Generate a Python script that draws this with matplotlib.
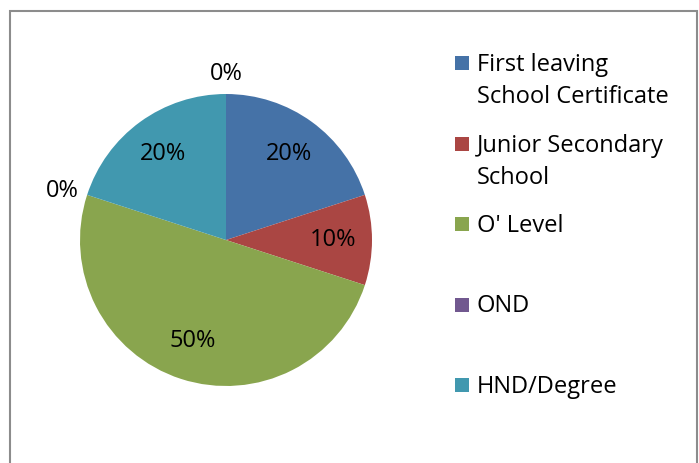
import matplotlib
matplotlib.use("Agg")
import matplotlib.pyplot as plt
from matplotlib.patches import Rectangle
import numpy as np

# dados (a última categoria não tem legenda)
categories = ["First leaving\nSchool Certificate", "Junior Secondary\nSchool",
              "O' Level", "OND", "HND/Degree", ""]
values = [20, 10, 50, 0, 20, 0]
colors = ["#4572A7", "#AA4643", "#89A54E", "#71588F", "#4198AF", "#DB843D"]

W, H = 699, 463
plt.rcParams["font.family"] = ["Open Sans", "DejaVu Sans"]


def px(x, y):
    # pixel (a partir do topo) -> coordenadas da figura
    return x / W, 1 - y / H


def make_chart():
    fig = plt.figure(figsize=(W / 100, H / 100), dpi=100)

    # moldura cinza do gráfico
    fig.patches.append(Rectangle(px(10, 480), (697 - 10) / W, (480 - 11) / H,
                                 transform=fig.transFigure, fill=False,
                                 edgecolor="#8c8c8c", linewidth=1.5))

    cx, cy, r = 226, 240, 146
    x0, y1 = px(cx - r, cy + r)
    ax = fig.add_axes([x0, y1, 2 * r / W, 2 * r / H])
    wedges, _ = ax.pie(values, colors=colors, startangle=90, counterclock=False,
                       radius=1, wedgeprops=dict(linewidth=0))
    ax.set_xlim(-1, 1)
    ax.set_ylim(-1, 1)
    ax.set_aspect("equal")
    ax.axis("off")

    total = sum(values)
    for w, v in zip(wedges, values):
        ang = np.deg2rad((w.theta1 + w.theta2) / 2)
        dist = 0.73 if v > 0 else 1.14
        lx, ly = dist * np.cos(ang), dist * np.sin(ang)
        if v == 0 and np.cos(ang) < -0.5:
            lx -= 0.04
            ly -= 0.02
        ax.text(lx, ly, f"{round(v / total * 100)}%",
                ha="center", va="center", fontsize=17, color="black", clip_on=False)

    # legenda manual (espaçamento uniforme como no Excel)
    for i, (cat, col) in enumerate(zip(categories[:5], colors[:5])):
        ly = 63 + i * 80.5
        sx, sy = px(455, ly + 7)
        fig.patches.append(Rectangle((sx, sy), 14 / W, 14 / H,
                                     transform=fig.transFigure,
                                     facecolor=col, edgecolor="none"))
        tx, ty = px(477, ly - 10)
        fig.text(tx, ty, cat, ha="left", va="top", fontsize=17,
                 color="black", linespacing=1.45)

    fig.savefig("out.png", dpi=100, facecolor="white")
    plt.close(fig)


if __name__ == "__main__":
    make_chart()
